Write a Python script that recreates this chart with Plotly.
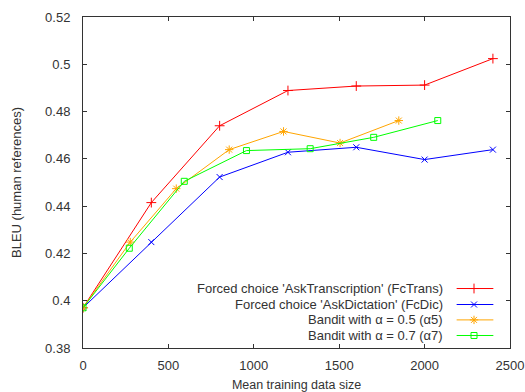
import plotly.graph_objects as go

# ---- data ----
x_fctrans = [0, 400, 800, 1200, 1600, 2000, 2400]
y_fctrans = [0.397, 0.4415, 0.474, 0.4889, 0.4908, 0.4912, 0.5024]

x_fcdic = [0, 400, 800, 1200, 1600, 2000, 2400]
y_fcdic = [0.397, 0.4248, 0.4523, 0.4628, 0.4649, 0.4597, 0.4639]

x_a5 = [0, 277, 546, 856, 1174, 1505, 1849]
y_a5 = [0.397, 0.4248, 0.4474, 0.4639, 0.4716, 0.4667, 0.4762]

x_a7 = [0, 271, 593, 957, 1330, 1702, 2077]
y_a7 = [0.397, 0.4222, 0.4505, 0.4635, 0.4643, 0.4691, 0.4762]

series_names = [
    "Forced choice 'AskTranscription' (FcTrans)",
    "Forced choice 'AskDictation' (FcDic)",
    "Bandit with \u03b1 = 0.5 (\u03b15)",
    "Bandit with \u03b1 = 0.7 (\u03b17)",
]
x_ticks = [0, 500, 1000, 1500, 2000, 2500]
y_ticks = [0.38, 0.4, 0.42, 0.44, 0.46, 0.48, 0.5, 0.52]
y_tick_text = ["0.38", "0.4", "0.42", "0.44", "0.46", "0.48", "0.5", "0.52"]

colors = ["#ff0000", "#0000ff", "#ffa500", "#00ff00"]
symbols = ["cross-thin-open", "x-thin-open", "asterisk-open", "square-open"]
sizes = [7, 6, 7, 6]

FONT = "Liberation Sans, Arial, sans-serif"
TXT = "#333333"

fig = go.Figure()
data = [(x_fctrans, y_fctrans), (x_fcdic, y_fcdic), (x_a5, y_a5), (x_a7, y_a7)]
for (xs, ys), name, c, s, sz in zip(data, series_names, colors, symbols, sizes):
    fig.add_trace(go.Scatter(
        x=xs, y=ys, mode="lines+markers", name=name, showlegend=False,
        line=dict(color=c, width=1),
        marker=dict(symbol=s, size=sz, color=c, line=dict(color=c, width=1)),
    ))

# ---- custom legend (text right-aligned, sample on the right) ----
leg_rows_y = [0.1797, 0.1314, 0.0849, 0.0378]
text_right = 0.8478
line_x0, line_x1, mark_x = 0.875, 0.961, 0.9157
for yr, name, c, s, sz in zip(leg_rows_y, series_names, colors, symbols, sizes):
    fig.add_annotation(xref="paper", yref="paper", x=text_right, y=yr,
                       text=name, showarrow=False, xanchor="right", yanchor="middle",
                       font=dict(family=FONT, size=13, color=TXT))
    fig.add_shape(type="line", xref="paper", yref="paper",
                  x0=line_x0, x1=line_x1, y0=yr, y1=yr,
                  line=dict(color=c, width=1))
    fig.add_trace(go.Scatter(
        x=[mark_x], y=[yr], xaxis="x2", yaxis="y2", mode="markers", showlegend=False,
        hoverinfo="skip",
        marker=dict(symbol=s, size=sz, color=c, line=dict(color=c, width=1)),
    ))

axis_common = dict(
    showgrid=False, zeroline=False, showline=True, linecolor="#333333", linewidth=1,
    mirror="allticks", ticks="inside", ticklen=4, tickcolor="#333333",
    tickfont=dict(family=FONT, size=13, color=TXT), automargin=False,
)
fig.update_layout(
    width=525, height=392,
    margin=dict(l=83, r=15, t=17, b=44),
    paper_bgcolor="white", plot_bgcolor="white",
    showlegend=False,
    xaxis=dict(range=[0, 2500], tickvals=x_ticks, ticktext=[str(v) for v in x_ticks],
               ticklabelstandoff=5,
               title=dict(text="Mean training data size", standoff=9,
                          font=dict(family=FONT, size=12.5, color=TXT)),
               **axis_common),
    yaxis=dict(range=[0.38, 0.52], tickvals=y_ticks, ticktext=y_tick_text,
               ticklabelstandoff=9,
               title=dict(text="BLEU (human references)", standoff=20,
                          font=dict(family=FONT, size=13, color=TXT)),
               **axis_common),
    xaxis2=dict(range=[0, 1], overlaying="x", visible=False, fixedrange=True),
    yaxis2=dict(range=[0, 1], overlaying="y", visible=False, fixedrange=True),
)

fig.write_html("out.html", config={"displayModeBar": False},
               post_script="document.body.style.margin='0';document.body.style.padding='0';document.body.style.overflow='hidden';")
